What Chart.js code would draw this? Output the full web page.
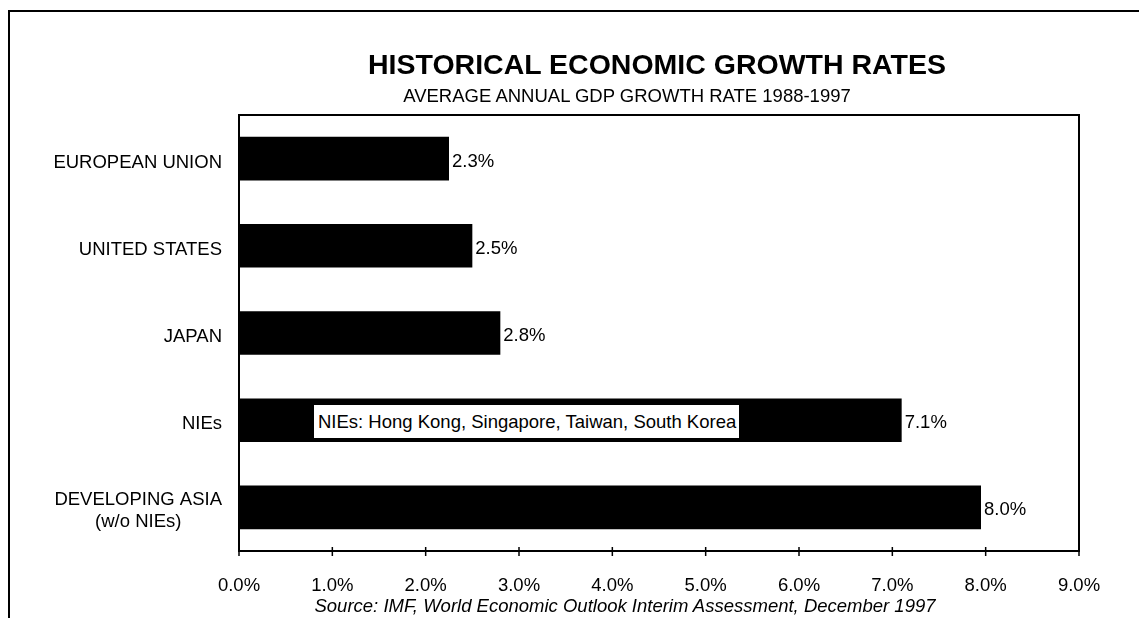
<!DOCTYPE html>
<html>
<head>
<meta charset="utf-8">
<script src="https://cdn.jsdelivr.net/npm/chart.js@4/dist/chart.umd.min.js"></script>
<style>
    body { margin: 0; background: #fff; }
    #wrap { position: relative; width: 1139px; height: 618px; overflow: hidden; font-family: "Liberation Sans", Arial, sans-serif; color: #000; }
    #chart { position: absolute; left: 0; top: 0; }
    .frame { position: absolute; left: 8px; top: 10px; width: 1200px; height: 700px; border-left: 2px solid #000; border-top: 2px solid #000; }
    .txt { position: absolute; white-space: nowrap; line-height: 1; transform: translateX(-50%); }
    #title { left: 657px; top: 50px; font-size: 28.5px; font-weight: bold; }
    #subtitle { left: 627px; top: 87px; font-size: 18.5px; }
    #source { left: 625px; top: 597px; font-size: 18.5px; font-style: italic; }
    #note { position: absolute; left: 313px; top: 404px; width: 427px; height: 35px; box-sizing: border-box;
            border: 1px solid #000; background: #fff; font-size: 18.5px; line-height: 33px; padding-left: 4px; white-space: nowrap; }
</style>
</head>
<body>
<div id="wrap">
    <canvas id="chart" width="1139" height="618"></canvas>
    <div class="frame"></div>
    <div id="title" class="txt">HISTORICAL ECONOMIC GROWTH RATES</div>
    <div id="subtitle" class="txt">AVERAGE ANNUAL GDP GROWTH RATE 1988-1997</div>
    <div id="note">NIEs: Hong Kong, Singapore, Taiwan, South Korea</div>
    <div id="source" class="txt">Source: IMF, World Economic Outlook Interim Assessment, December 1997</div>
</div>
<script>
// Data
const categories = ['EUROPEAN UNION', 'UNITED STATES', 'JAPAN', 'NIEs', ['DEVELOPING ASIA', '(w/o NIEs)']];
const growthRates = [2.25, 2.5, 2.8, 7.1, 7.95];
const xTickValues = [0, 1, 2, 3, 4, 5, 6, 7, 8, 9];

const FONT = '"Liberation Sans", Arial, sans-serif';

// Plot frame, crossing tick marks, value labels and category labels
const decorPlugin = {
    id: 'decor',
    afterDatasetsDraw(chart) {
        const { ctx, chartArea: a, scales } = chart;
        ctx.save();
        ctx.strokeStyle = '#000';
        ctx.fillStyle = '#000';

        ctx.lineWidth = 2;
        ctx.strokeRect(a.left, a.top, a.right - a.left, a.bottom - a.top);

        ctx.lineWidth = 1.5;
        scales.x.ticks.forEach(t => {
            const x = scales.x.getPixelForValue(t.value);
            ctx.beginPath();
            ctx.moveTo(x, a.bottom - 4);
            ctx.lineTo(x, a.bottom + 5);
            ctx.stroke();
        });

        ctx.font = '18.5px ' + FONT;
        ctx.textBaseline = 'middle';
        ctx.textAlign = 'left';
        chart.getDatasetMeta(0).data.forEach((bar, i) => {
            ctx.fillText(growthRates[i].toFixed(1) + '%', bar.x + 3, bar.y + 3);
        });

        ctx.textAlign = 'center';
        categories.forEach((c, i) => {
            const lines = Array.isArray(c) ? c : [c];
            const w = Math.max(...lines.map(l => ctx.measureText(l).width));
            const cx = a.left - 17 - w / 2;
            const y = scales.y.getPixelForValue(i);
            const lh = 22;
            const y0 = y + 4 - (lines.length - 1) * lh / 2;
            lines.forEach((l, j) => ctx.fillText(l, cx, y0 + j * lh));
        });
        ctx.restore();
    }
};

new Chart(document.getElementById('chart'), {
    type: 'bar',
    data: {
        labels: categories,
        datasets: [{
            data: growthRates,
            backgroundColor: '#000',
            borderWidth: 0,
            barPercentage: 0.5,
            categoryPercentage: 1.0
        }]
    },
    options: {
        indexAxis: 'y',
        responsive: false,
        animation: false,
        devicePixelRatio: 1,
        layout: {
            padding: { left: 239, top: 115, right: 60, bottom: 27 }
        },
        scales: {
            x: {
                min: 0,
                max: 9,
                afterBuildTicks: scale => { scale.ticks = xTickValues.map(v => ({ value: v })); },
                afterFit: scale => { scale.height = 40; },
                grid: { display: false, drawTicks: false },
                border: { display: false },
                ticks: {
                    padding: 24,
                    maxRotation: 0,
                    autoSkip: false,
                    color: '#000',
                    font: { family: FONT, size: 18.5 },
                    callback: v => v.toFixed(1) + '%'
                }
            },
            y: {
                display: false
            }
        },
        plugins: {
            legend: { display: false },
            tooltip: { enabled: false }
        }
    },
    plugins: [decorPlugin]
});
</script>
</body>
</html>
